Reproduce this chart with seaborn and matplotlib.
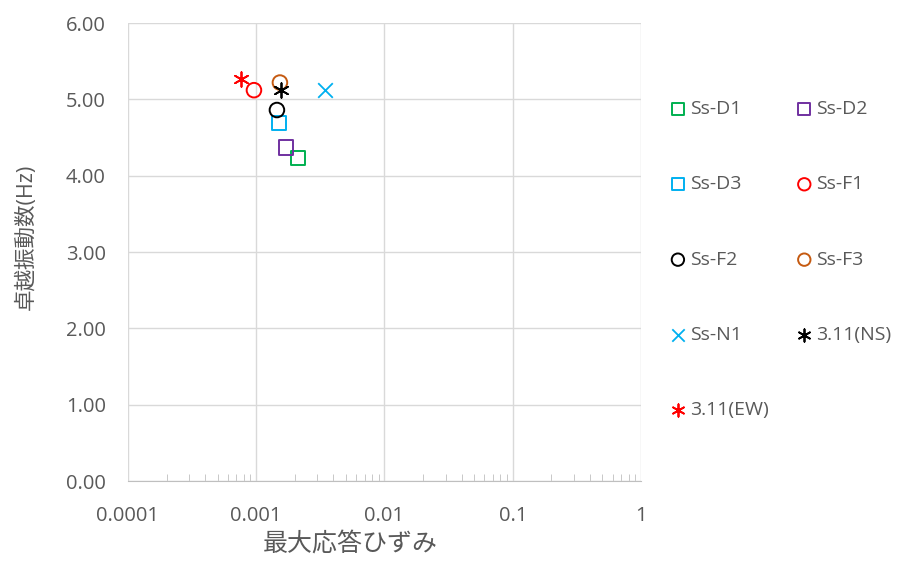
import numpy as np
import pandas as pd
import seaborn as sns
import matplotlib.pyplot as plt
from matplotlib.ticker import LogLocator, FixedLocator, NullFormatter

names = ['Ss-D1', 'Ss-D2', 'Ss-D3', 'Ss-F1', 'Ss-F2', 'Ss-F3', 'Ss-N1', '3.11(NS)', '3.11(EW)']
strain = [0.00212, 0.00170, 0.00150, 0.00096, 0.00145, 0.00153, 0.00344, 0.00156, 0.00076]
freq = [4.23, 4.37, 4.69, 5.12, 4.86, 5.22, 5.12, 5.12, 5.27]
colors = ['#00B050', '#7030A0', '#00B0F0', '#FF0000', '#000000', '#C55A11', '#00B0F0', '#000000', '#FF0000']
markers = ['s', 's', 's', 'o', 'o', 'o', 'x', (6, 2, 0), (6, 2, 0)]

data = pd.DataFrame({'name': names, 'strain': strain, 'freq': freq})

sns.set_style('white')
plt.rcParams['font.family'] = ['Open Sans', 'Noto Sans CJK JP', 'DejaVu Sans']
grey = '#595959'

fig = plt.figure(figsize=(9.03, 5.61), dpi=100)
ax = fig.add_axes([0.1417, 0.1426, 0.5682, 0.8164])

for i, row in data.iterrows():
    if markers[i] in ('x', (6, 2, 0)):
        sns.scatterplot(x=[row['strain']], y=[row['freq']], ax=ax, marker=markers[i],
                        color=colors[i], s=110, linewidth=1.3, label=row['name'])
    else:
        sns.scatterplot(x=[row['strain']], y=[row['freq']], ax=ax, marker=markers[i],
                        facecolor='none', edgecolor=colors[i], s=110, linewidth=1.4,
                        label=row['name'])

ax.set_xscale('log')
ax.set_xlim(0.0001, 1)
ax.set_ylim(0, 6)
ax.set_yticks(np.arange(0, 6.01, 1))
ax.set_yticklabels([f'{v:.2f}' for v in np.arange(0, 6.01, 1)])
ax.xaxis.set_major_locator(FixedLocator([0.0001, 0.001, 0.01, 0.1, 1]))
ax.set_xticklabels(['0.0001', '0.001', '0.01', '0.1', '1'])
ax.xaxis.set_minor_locator(LogLocator(base=10, subs=np.arange(2, 10)))
ax.xaxis.set_minor_formatter(NullFormatter())

ax.grid(True, which='major', color='#D9D9D9', linewidth=1.0)
ax.set_axisbelow(True)
for side in ['left', 'right', 'top']:
    ax.spines[side].set_visible(False)
ax.spines['bottom'].set_color('#BFBFBF')
ax.tick_params(axis='x', which='major', length=0, pad=18, labelsize=14.5, labelcolor=grey)
ax.tick_params(axis='x', which='minor', direction='in', length=5, color='#BFBFBF', bottom=True)
ax.tick_params(axis='y', length=0, pad=16, labelsize=14.5, labelcolor=grey)

ax.set_xlabel('最大応答ひずみ', fontsize=18, color=grey)
ax.set_ylabel('卓越振動数(Hz)', fontsize=15.5, color=grey)
ax.xaxis.set_label_coords(0.433, -0.112)
ax.yaxis.set_label_coords(-0.177, 0.533)

# row-major legend order, like the original
handles, labels = ax.get_legend_handles_labels()
order = [0, 2, 4, 6, 8, 1, 3, 5, 7]
ax.legend([handles[k] for k in order], [labels[k] for k in order],
          loc='upper left', bbox_to_anchor=(1.015, 0.87), ncol=2, frameon=False,
          fontsize=14, labelcolor=grey, labelspacing=2.95, columnspacing=1.25,
          handletextpad=0.0, handlelength=1.2, markerscale=0.85)

plt.savefig('out.png', dpi=100)
